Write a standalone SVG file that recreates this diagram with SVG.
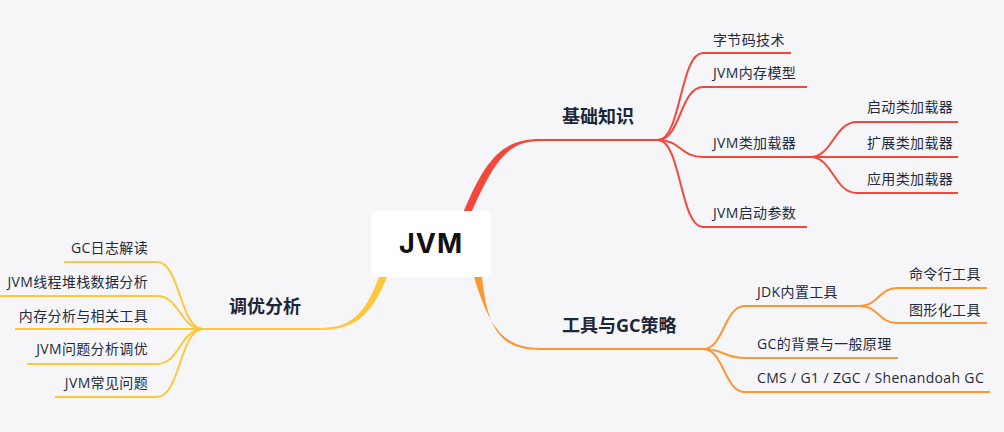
<svg xmlns="http://www.w3.org/2000/svg" width="1004" height="432" viewBox="0 0 1004 432">
<style>
.t{font-family:"Open Sans","Noto Sans CJK SC",sans-serif;font-size:14px;letter-spacing:0.35px;fill:#1f2b3d}
.m{font-family:"Open Sans","Noto Sans CJK SC",sans-serif;font-size:18px;font-weight:700;fill:#1b2638}
.r{stroke:#f4473b}
.o{stroke:#fc9834}
.y{stroke:#fdc83b}
.c path.l{fill:none;stroke-width:2}
</style>
<rect width="1004" height="432" fill="#f6f6f9"/>
<g id="connectors" class="c">
  <path d="M463,213 C486,158 503,139 540,139 L540,141 C507,141 494,162 471,213 Z" fill="#f4473b"/>
  <path class="l r" d="M539,140 L658,140"/>
  <path class="l r" d="M658,140 C681,140 680,53 703,53 L791,53"/>
  <path class="l r" d="M658,140 C681,140 680,87 703,87 L807,87"/>
  <path class="l r" d="M658,140 C681,140 680,157 703,157 L810,157"/>
  <path class="l r" d="M658,140 C681,140 680,227 703,227 L807,227"/>
  <path class="l r" d="M810,157 C833,157 834,122 857,122 L958,122"/>
  <path class="l r" d="M810,157 L958,157"/>
  <path class="l r" d="M810,157 C833,157 834,193 857,193 L958,193"/>

  <path d="M474,277 C490,330 505,348 540,348 L540,350 C503,350 488,333 482,277 Z" fill="#fc9834"/>
  <path class="l o" d="M539,349 L703,349"/>
  <path class="l o" d="M703,349 C724,349 724,306 745,306 L860,306"/>
  <path class="l o" d="M860,306 C878,306 879,288 897,288 L987,288"/>
  <path class="l o" d="M860,306 C878,306 879,323 897,323 L987,323"/>
  <path class="l o" d="M703,349 C724,349 724,358 745,358 L898,358"/>
  <path class="l o" d="M703,349 C724,349 724,392 745,392 L990,392"/>

  <path d="M379,277 C365,315 350,328 320,328 L320,330 C352,330 371,318 387,277 Z" fill="#fdc83b"/>
  <path class="l y" d="M321,329 L203,329"/>
  <path class="l y" d="M203,329 C180,329 180,262 157,262 L64,262"/>
  <path class="l y" d="M203,329 C180,329 180,296 157,296 L0,296"/>
  <path class="l y" d="M203,329 L15,329"/>
  <path class="l y" d="M203,329 C180,329 180,364 157,364 L27,364"/>
  <path class="l y" d="M203,329 C180,329 180,397 157,397 L55,397"/>
</g>
<g id="root">
  <rect x="371" y="211" width="120" height="66" rx="6" fill="#ffffff"/>
  <text x="431" y="253" text-anchor="middle" font-family="Inter,'Noto Sans',sans-serif" font-size="27" font-weight="700" letter-spacing="1" fill="#111111">JVM</text>
</g>
<g id="n-jichu"><text class="m" x="562" y="123">基础知识</text></g>
<g id="n-zijiema"><text class="t" x="713" y="45">字节码技术</text></g>
<g id="n-neicun"><text class="t" x="713" y="78">JVM内存模型</text></g>
<g id="n-leijiazai"><text class="t" x="713" y="148">JVM类加载器</text></g>
<g id="n-qidongcanshu"><text class="t" x="713" y="218">JVM启动参数</text></g>
<g id="n-qidonglei"><text class="t" x="867" y="112">启动类加载器</text></g>
<g id="n-kuozhan"><text class="t" x="867" y="148">扩展类加载器</text></g>
<g id="n-yingyong"><text class="t" x="867" y="184">应用类加载器</text></g>

<g id="n-gongju"><text class="m" x="562" y="332">工具与GC策略</text></g>
<g id="n-jdk"><text class="t" x="757" y="297">JDK内置工具</text></g>
<g id="n-mingling"><text class="t" x="909" y="279">命令行工具</text></g>
<g id="n-tuxing"><text class="t" x="909" y="315">图形化工具</text></g>
<g id="n-gcbeijing"><text class="t" x="757" y="349">GC的背景与一般原理</text></g>
<g id="n-cms"><text class="t" x="757" y="383">CMS / G1 / ZGC / Shenandoah GC</text></g>

<g id="n-tiaoyou"><text class="m" x="229" y="313">调优分析</text></g>
<g id="n-gcrizhi"><text class="t" x="148" y="253" text-anchor="end">GC日志解读</text></g>
<g id="n-xiancheng"><text class="t" x="148" y="287" text-anchor="end">JVM线程堆栈数据分析</text></g>
<g id="n-neicunfenxi"><text class="t" x="148" y="321" text-anchor="end">内存分析与相关工具</text></g>
<g id="n-wenti"><text class="t" x="148" y="354" text-anchor="end">JVM问题分析调优</text></g>
<g id="n-changjian"><text class="t" x="148" y="388" text-anchor="end">JVM常见问题</text></g>
</svg>
